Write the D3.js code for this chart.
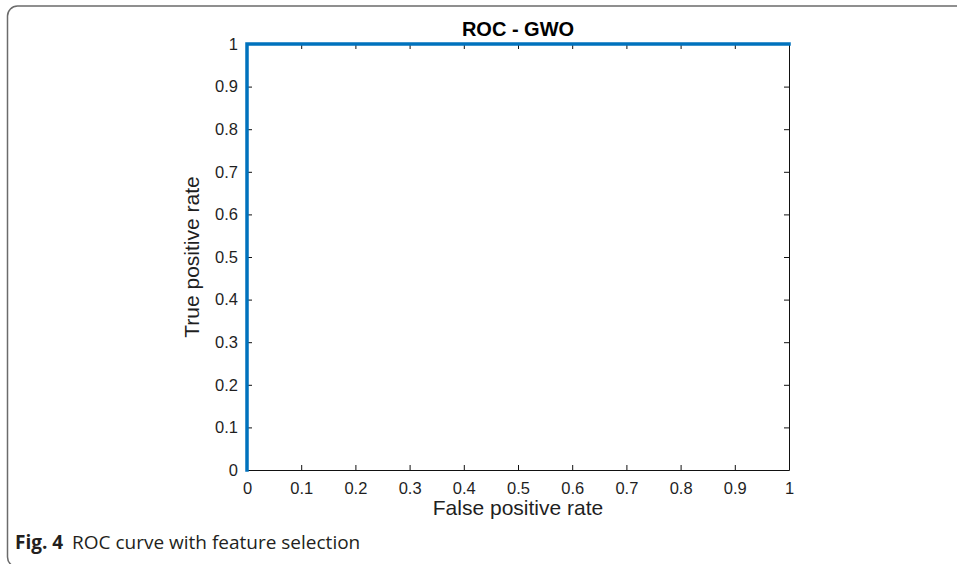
<!DOCTYPE html>
<html>
<head>
<meta charset="utf-8">
<script src="https://cdn.jsdelivr.net/npm/d3@7"></script>
<style>
    body { margin: 0; background: #fff; }
    svg { display: block; }
</style>
</head>
<body>
<main></main>
<script>
// ROC points (false positive rate, true positive rate)
const fpr = [0, 0, 1];
const tpr = [0, 1, 1];
const tickValues = [0, 0.1, 0.2, 0.3, 0.4, 0.5, 0.6, 0.7, 0.8, 0.9, 1];
const title = 'ROC - GWO';
const xLabel = 'False positive rate';
const yLabel = 'True positive rate';

const width = 957;
const height = 564;
const plot = { left: 247, right: 789, top: 44, bottom: 470 };

const svg = d3.select('main')
    .append('svg')
    .attr('width', width)
    .attr('height', height);

// page frame with rounded corners
svg.append('rect')
    .attr('x', 7.5)
    .attr('y', 6)
    .attr('width', 1000)
    .attr('height', 561)
    .attr('rx', 10)
    .attr('fill', 'none')
    .attr('stroke', '#6b6b6b')
    .attr('stroke-width', 1.5);

const x = d3.scaleLinear().domain([0, 1]).range([plot.left, plot.right]);
const y = d3.scaleLinear().domain([0, 1]).range([plot.bottom, plot.top]);

const fmt = d => String(d);

const styleAxis = g => {
    g.selectAll('path.domain').attr('stroke', '#111').attr('stroke-width', 1);
    g.selectAll('.tick line').attr('stroke', '#111').attr('stroke-width', 1);
    g.selectAll('.tick text')
        .attr('fill', '#1f1f1f')
        .attr('font-family', '"Liberation Sans", Arial, sans-serif')
        .attr('font-size', 16.5);
};

svg.append('g')
    .attr('transform', `translate(0,${plot.bottom})`)
    .call(d3.axisBottom(x).tickValues(tickValues).tickFormat(fmt).tickSize(-5).tickSizeOuter(0).tickPadding(12))
    .call(styleAxis);

svg.append('g')
    .attr('transform', `translate(${plot.left},0)`)
    .call(d3.axisLeft(y).tickValues(tickValues).tickFormat(fmt).tickSize(-5).tickSizeOuter(0).tickPadding(9))
    .call(styleAxis);

svg.append('g')
    .attr('transform', `translate(0,${plot.top})`)
    .call(d3.axisTop(x).tickValues(tickValues).tickFormat('').tickSize(-5).tickSizeOuter(0))
    .call(styleAxis);

svg.append('g')
    .attr('transform', `translate(${plot.right},0)`)
    .call(d3.axisRight(y).tickValues(tickValues).tickFormat('').tickSize(-5).tickSizeOuter(0))
    .call(styleAxis);

// ROC curve
const line = d3.line().x(d => x(d[0])).y(d => y(d[1]));
svg.append('path')
    .datum(fpr.map((v, i) => [v, tpr[i]]))
    .attr('d', line)
    .attr('fill', 'none')
    .attr('stroke', '#0072BD')
    .attr('stroke-width', 3.5)
    .attr('stroke-linecap', 'square');

// title and axis labels
svg.append('text')
    .text(title)
    .attr('x', (plot.left + plot.right) / 2)
    .attr('y', 36)
    .attr('text-anchor', 'middle')
    .attr('font-family', '"Liberation Sans", Arial, sans-serif')
    .attr('font-weight', 'bold')
    .attr('font-size', 20)
    .attr('fill', '#000');

svg.append('text')
    .text(xLabel)
    .attr('x', (plot.left + plot.right) / 2)
    .attr('y', 515)
    .attr('text-anchor', 'middle')
    .attr('font-family', '"Liberation Sans", Arial, sans-serif')
    .attr('font-size', 21)
    .attr('fill', '#1f1f1f');

svg.append('text')
    .text(yLabel)
    .attr('transform', `translate(199,${(plot.top + plot.bottom) / 2}) rotate(-90)`)
    .attr('text-anchor', 'middle')
    .attr('font-family', '"Liberation Sans", Arial, sans-serif')
    .attr('font-size', 21)
    .attr('fill', '#1f1f1f');

// figure caption
const caption = svg.append('text')
    .attr('y', 549)
    .attr('font-family', '"Open Sans", "Noto Sans", sans-serif')
    .attr('font-size', 19)
    .attr('fill', '#231f20');
caption.append('tspan').attr('x', 15).attr('font-weight', 'bold').text('Fig. 4');
caption.append('tspan').attr('x', 72).text('ROC curve with feature selection');
</script>
</body>
</html>
